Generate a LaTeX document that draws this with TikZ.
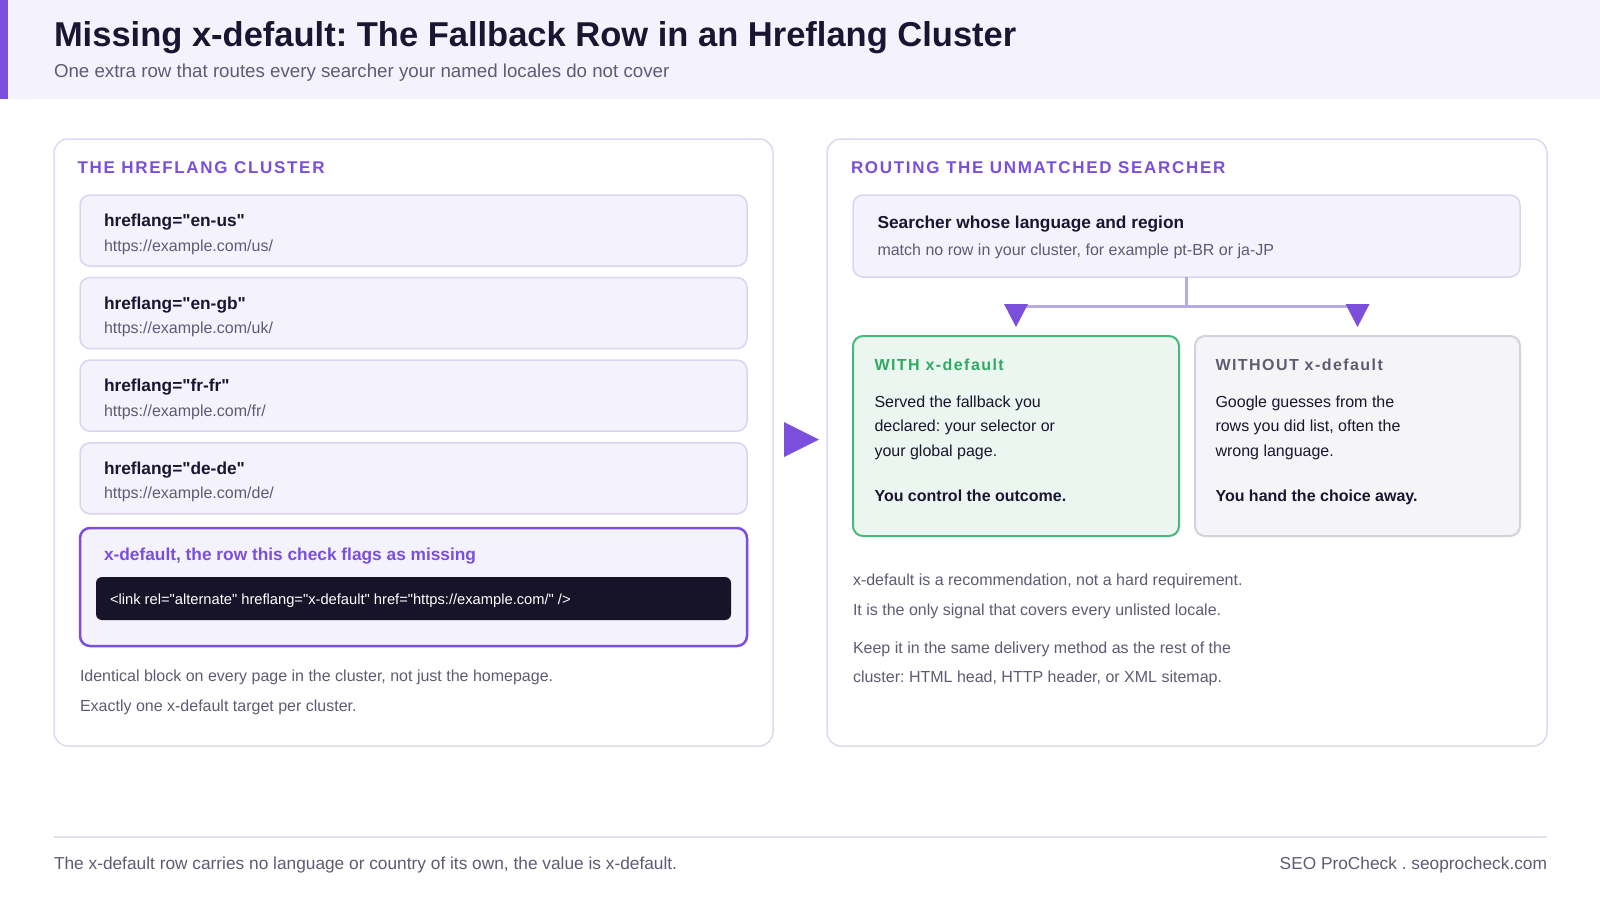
\documentclass[tikz,border=0pt]{standalone}
\usepackage{fontspec}
\setmainfont{Liberation Sans}[Ligatures=TeXOff]
\usetikzlibrary{calc}
\frenchspacing
\definecolor{hdrbg}{HTML}{F4F2FD}
\definecolor{accent}{HTML}{7B4FDB}
\definecolor{ink}{HTML}{1A1530}
\definecolor{muted}{HTML}{5F5B73}
\definecolor{panelline}{HTML}{DDD9F0}
\definecolor{rowfill}{HTML}{F4F2FC}
\definecolor{rowline}{HTML}{D9D4F0}
\definecolor{codebg}{HTML}{17142A}
\definecolor{greenline}{HTML}{45B97A}
\definecolor{greenfill}{HTML}{EAF6EF}
\definecolor{greentext}{HTML}{2EAA62}
\definecolor{grayline}{HTML}{D3D1DB}
\definecolor{grayfill}{HTML}{F5F5F8}
\definecolor{connline}{HTML}{B7A8E6}
\definecolor{footline}{HTML}{E3E1EC}
\newcommand\fsz[1]{\fontsize{#1}{#1}\selectfont}
\begin{document}
\begin{tikzpicture}[x=1pt,y=-1pt,
  every node/.style={inner sep=0pt,outer sep=0pt},
  txt/.style={anchor=base west},
  boxbase/.style={anchor=north west,draw,rounded corners=#1},
  boxbase/.default=10,
  panel/.style={boxbase=14,fill=white,draw=panelline,line width=1.5},
  rowbox/.style={boxbase=10,fill=rowfill,draw=rowline,line width=1.5},
  hlbox/.style={boxbase=10,fill=rowfill,draw=accent,line width=2.5},
  codebox/.style={boxbase=6,fill=codebg,draw=none},
  withbox/.style={boxbase=10,fill=greenfill,draw=greenline,line width=2},
  wobox/.style={boxbase=10,fill=grayfill,draw=grayline,line width=2},
  heading/.style={txt,text=accent,font=\fsz{17}\bfseries\addfontfeatures{LetterSpace=10}},
  rowtitle/.style={txt,text=ink,font=\fsz{17.3}\bfseries},
  rowurl/.style={txt,text=muted,font=\fsz{16}},
  note/.style={txt,text=muted,font=\fsz{16}},
  body/.style={txt,text=ink,font=\fsz{16}},
  bodybold/.style={txt,text=ink,font=\fsz{16}\bfseries},
  conn/.style={draw=connline,line width=3},
  tip/.style={fill=accent}
]
\useasboundingbox (0,0) rectangle (1600,900);
\fill[white] (0,0) rectangle (1600,900);
% header
\fill[hdrbg] (0,0) rectangle (1600,99);
\fill[accent] (0,0) rectangle (8,99);
\node[txt,text=ink,font=\fsz{34.5}\bfseries] (title) at (54,46) {Missing x-default: The Fallback Row in an Hreflang Cluster};
\node[txt,text=muted,font=\fsz{18.7}] (subtitle) at (54,77.5) {One extra row that routes every searcher your named locales do not cover};
% panels
\node[panel,minimum width=719,minimum height=607] (lp) at (54,139) {};
\node[panel,minimum width=720,minimum height=607] (rp) at (827,139) {};
\node[heading] (lhead) at (77.5,173.5) {THE HREFLANG CLUSTER};
\node[heading] (rhead) at (851,173.5) {ROUTING THE UNMATCHED SEARCHER};
% rows
\foreach \i/\lang/\loc in {0/en-us/us,1/en-gb/uk,2/fr-fr/fr,3/de-de/de} {
  \node[rowbox,minimum width=667,minimum height=71] (row\i) at (80,{195+\i*82.6}) {};
  \node[rowtitle] (rowt\i) at ($(row\i.north west)+(24,31.5)$) {hreflang="\lang"};
  \node[rowurl] (rowu\i) at ($(row\i.north west)+(24,56)$) {https://example.com/\loc/};
}
% highlighted row
\node[hlbox,minimum width=667,minimum height=118] (hl) at (80,528) {};
\node[txt,text=accent,font=\fsz{17.3}\bfseries] (hlt) at (104,560) {x-default, the row this check flags as missing};
\node[codebox,minimum width=635,minimum height=43] (code) at (96,577) {};
\node[txt,text=white,font=\fsz{14.7}] (codet) at (110,604) {<link rel="alternate" hreflang="x-default" href="https://example.com/" />};
\node[note] (ln1) at (80,681.5) {Identical block on every page in the cluster, not just the homepage.};
\node[note] (ln2) at (80,711) {Exactly one x-default target per cluster.};
% middle arrow
\fill[accent] (784,422) -- (819,439.5) -- (784,457) -- cycle;
% searcher box
\node[rowbox,minimum width=667,minimum height=82] (srch) at (853,195) {};
\node[rowtitle] (srcht) at (877.5,228.5) {Searcher whose language and region};
\node[rowurl] (srchu) at (877.5,255) {match no row in your cluster, for example pt-BR or ja-JP};
% with / without
\node[withbox,minimum width=326,minimum height=200] (with) at (853,336) {};
\node[wobox,minimum width=325,minimum height=200] (wo) at (1195,336) {};
\coordinate (jn) at (srch.south |- 0,306);
\draw[conn] (srch.south) -- (jn);
\draw[conn] (with.north |- jn) -- (wo.north |- jn);
\fill[tip] ($(with.north |- jn)+(-12,-2)$) -- ($(with.north |- jn)+(12,-2)$) -- ($(with.north)+(0,-9)$) -- cycle;
\fill[tip] ($(wo.north |- jn)+(-12,-2)$) -- ($(wo.north |- jn)+(12,-2)$) -- ($(wo.north)+(0,-9)$) -- cycle;
\node[heading,text=greentext,font=\fsz{16}\bfseries\addfontfeatures{LetterSpace=9}] (wh) at (874.5,370.5) {WITH x-default};
\node[body] (w1) at (874.5,407) {Served the fallback you};
\node[body] (w2) at (874.5,431.5) {declared: your selector or};
\node[body] (w3) at (874.5,456) {your global page.};
\node[bodybold] (w4) at (874.5,501) {You control the outcome.};
\node[heading,text=muted,font=\fsz{16}\bfseries\addfontfeatures{LetterSpace=9}] (woh) at (1215.5,370.5) {WITHOUT x-default};
\node[body] (o1) at (1215.5,407) {Google guesses from the};
\node[body] (o2) at (1215.5,431.5) {rows you did list, often the};
\node[body] (o3) at (1215.5,456) {wrong language.};
\node[bodybold] (o4) at (1215.5,501) {You hand the choice away.};
% right notes
\node[note] (rn1) at (853,585.5) {x-default is a recommendation, not a hard requirement.};
\node[note] (rn2) at (853,615) {It is the only signal that covers every unlisted locale.};
\node[note] (rn3) at (853,653) {Keep it in the same delivery method as the rest of the};
\node[note] (rn4) at (853,682.5) {cluster: HTML head, HTTP header, or XML sitemap.};
% footer
\coordinate (fl) at (54,837);
\coordinate (fr) at (1547,837);
\draw[footline,line width=1.5] (fl) -- (fr);
\node[txt,text=muted,font=\fsz{17.3}] (foot) at (54,869.5) {The x-default row carries no language or country of its own, the value is x-default.};
\node[anchor=base east,text=muted,font=\fsz{17.3}] (brand) at (1547,869.5) {SEO ProCheck . seoprocheck.com};
\end{tikzpicture}
\end{document}
